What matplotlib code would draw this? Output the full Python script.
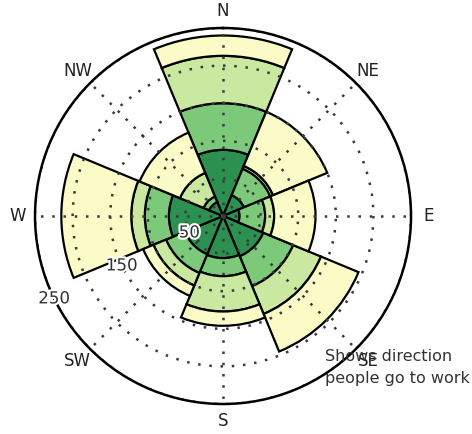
import numpy as np
import matplotlib
matplotlib.use("Agg")
import matplotlib.pyplot as plt
import matplotlib.patheffects as pe

# directions, clockwise from north
directions = ["N", "NE", "E", "SE", "S", "SW", "W", "NW"]
# stacked layers, innermost first (counts)
dark = [88, 30, 22, 58, 56, 55, 72, 20]
medium = [62, 38, 34, 43, 24, 27, 32, 8]
light = [63, 4, 12, 40, 47, 18, 18, 34]
yellow = [27, 78, 55, 54, 19, 15, 93, 58]
layer_colors = ["#2c9150", "#7cc97a", "#cbe8a0", "#fbfbc8"]

r_ticks = [50, 100, 150, 200, 250]
r_labels = ["50", "", "150", "", "250"]
rlabel_angle = 244

fig = plt.figure(figsize=(4.72, 4.34), dpi=100)
ax = fig.add_axes([0.0742, 0.0691, 0.7966, 0.8664], projection="polar")
ax.set_theta_zero_location("N")
ax.set_theta_direction(-1)

theta = np.deg2rad(np.arange(len(directions)) * 45)
width = np.deg2rad(45)
bottom = np.zeros(len(directions))
for vals, col in zip([dark, medium, light, yellow], layer_colors):
    ax.bar(theta, vals, width=width, bottom=bottom, color=col,
           edgecolor="black", linewidth=1.6)
    bottom = bottom + np.array(vals)

ax.set_ylim(0, 250)
ax.set_xticks(theta)
ax.set_xticklabels(directions, fontsize=12, color="#222222")
ax.tick_params(axis="x", pad=2)
ax.set_yticks(r_ticks)
ax.set_yticklabels([])
# radial labels centred on their rings
for r, lab in zip(r_ticks, r_labels):
    if lab:
        ax.text(np.deg2rad(rlabel_angle), r, lab, fontsize=12, color="#333333",
                ha="center", va="center", zorder=5,
                path_effects=[pe.withStroke(linewidth=3, foreground="white")])

ax.grid(True, linestyle=(0, (1, 3.5)), color="#3a3a3a", linewidth=1.8)
ax.spines["polar"].set_linewidth(1.8)

fig.text(0.689, 0.153, "Shows direction\npeople go to work", fontsize=11.5,
         color="#333333", ha="left", va="center", linespacing=1.65)

plt.savefig("out.png", dpi=100)
